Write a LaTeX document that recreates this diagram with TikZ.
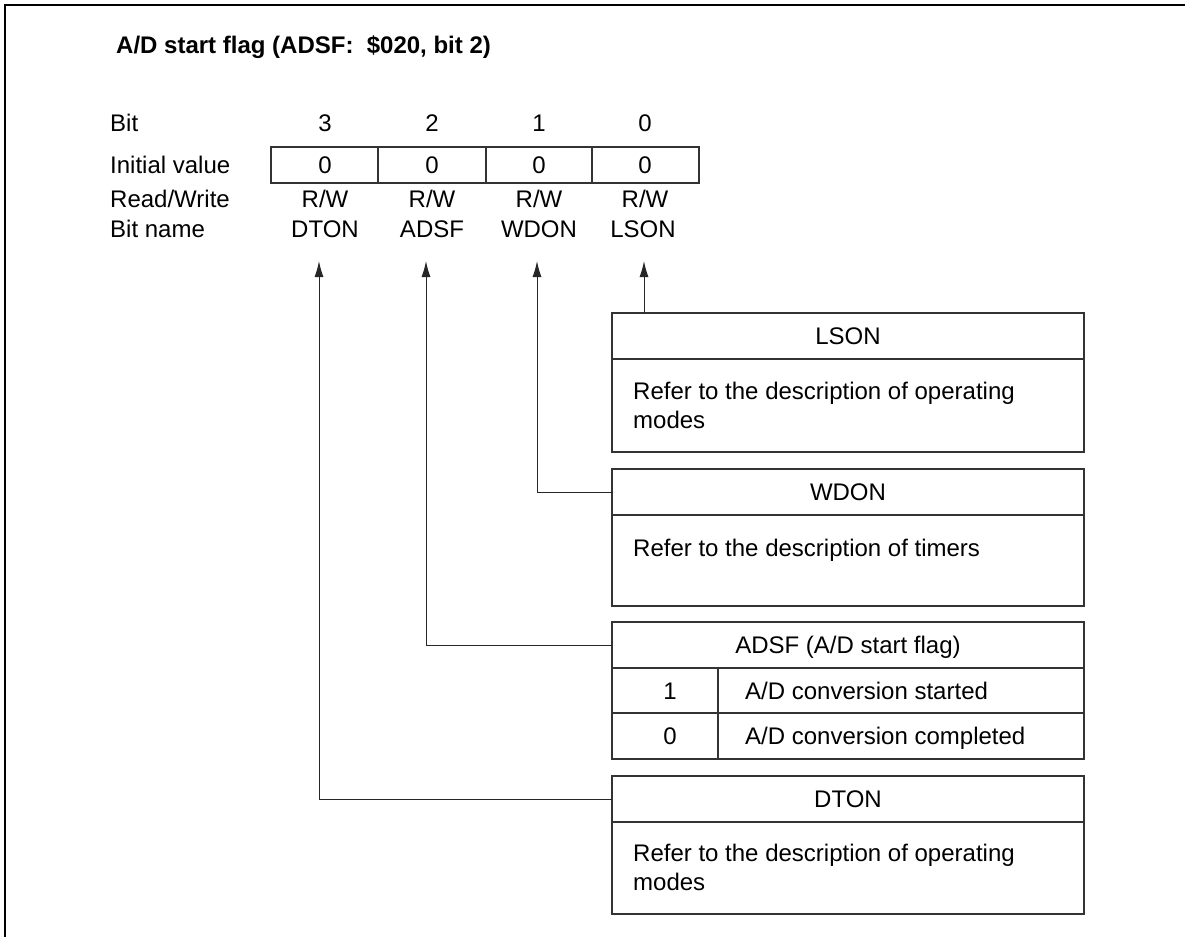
\documentclass[tikz,border=0pt]{standalone}
\usepackage{fontspec}
\setmainfont{Liberation Sans}
\usetikzlibrary{arrows.meta}
\begin{document}
\begin{tikzpicture}[x=1pt,y=-1pt,
  txt/.style={font=\fontsize{24}{29}\selectfont, inner sep=0pt, text height=17.2pt, text depth=0pt},
  rowlbl/.style={txt, anchor=west},
  body/.style={font=\fontsize{24}{29}\selectfont, inner sep=0pt, anchor=base west},
  boxline/.style={draw=black!80, line width=1.2pt},
  conn/.style={draw=black!85, line width=1pt},
  arr/.style={conn, -{Latex[length=16pt,width=9pt]}},
  frame/.style={draw=black, line width=2pt}
]
\useasboundingbox (0,0) rectangle (1187,937);
% outer frame
\draw[frame] (5,937) -- (5,5) -- (1185,5);

% title
\node[txt, anchor=west, font=\bfseries\fontsize{24}{29}\selectfont] (title) at (116,45) {A/D start flag (ADSF:\ \ \$020, bit 2)};

% row labels
\node[rowlbl] (lbit) at (110,123) {Bit};
\node[rowlbl] (linit) at (110,165) {Initial value};
\node[rowlbl] (lrw) at (110,199) {Read/Write};
\node[rowlbl] (lname) at (110,229) {Bit name};

% register table
\draw[boxline] (271,147) rectangle (699,183);
\foreach \x in {378,486,592} \draw[boxline] (\x,147) -- (\x,183);

\foreach \x/\b [count=\i] in {325/3,432/2,539/1,645/0}{
  \node[txt] (b\i) at (\x,123) {\b};
  \node[txt] (v\i) at (\x,165) {0};
  \node[txt] (rw\i) at (\x,199) {R/W};
}
\node[txt] (nDTON) at (325,229) {DTON};
\node[txt] (nADSF) at (432,229) {ADSF};
\node[txt] (nWDON) at (539,229) {WDON};
\node[txt] (nLSON) at (643,229) {LSON};

% arrow tips
\coordinate (tDTON) at (319,261);
\coordinate (tADSF) at (426,261);
\coordinate (tWDON) at (537,261);
\coordinate (tLSON) at (644,261);

% LSON box
\draw[boxline] (612,313) rectangle (1084,452);
\draw[boxline] (612,359) -- (1084,359);
\node[txt] (hLSON) at (848,336) {LSON};
\node[body] (dLSON) at (633,399) {Refer to the description of operating};
\node[body] (dLSON2) at (633,428) {modes};
\coordinate (cLSON) at (644,313);

% WDON box
\draw[boxline] (612,469) rectangle (1084,606);
\draw[boxline] (612,515) -- (1084,515);
\node[txt] (hWDON) at (848,492) {WDON};
\node[body] (dWDON) at (633,556) {Refer to the description of timers};
\coordinate (cWDON) at (612,492);

% ADSF box
\draw[boxline] (612,622) rectangle (1084,759);
\draw[boxline] (612,668) -- (1084,668);
\draw[boxline] (612,713) -- (1084,713);
\draw[boxline] (718,668) -- (718,759);
\node[txt] (hADSF) at (848,645) {ADSF (A/D start flag)};
\node[txt] (k1) at (670,690.5) {1};
\node[txt, anchor=west] (e1) at (745,690.5) {A/D conversion started};
\node[txt] (k0) at (670,736) {0};
\node[txt, anchor=west] (e0) at (745,736) {A/D conversion completed};
\coordinate (cADSF) at (612,645);

% DTON box
\draw[boxline] (612,776) rectangle (1084,914);
\draw[boxline] (612,822) -- (1084,822);
\node[txt] (hDTON) at (848,799) {DTON};
\node[body] (dDTON) at (633,861) {Refer to the description of operating};
\node[body] (dDTON2) at (633,890) {modes};
\coordinate (cDTON) at (612,799);

% connectors
\draw[arr] (cLSON) -- (tLSON);
\draw[arr] (cWDON) -| (tWDON);
\draw[arr] (cADSF) -| (tADSF);
\draw[arr] (cDTON) -| (tDTON);
\end{tikzpicture}
\end{document}
